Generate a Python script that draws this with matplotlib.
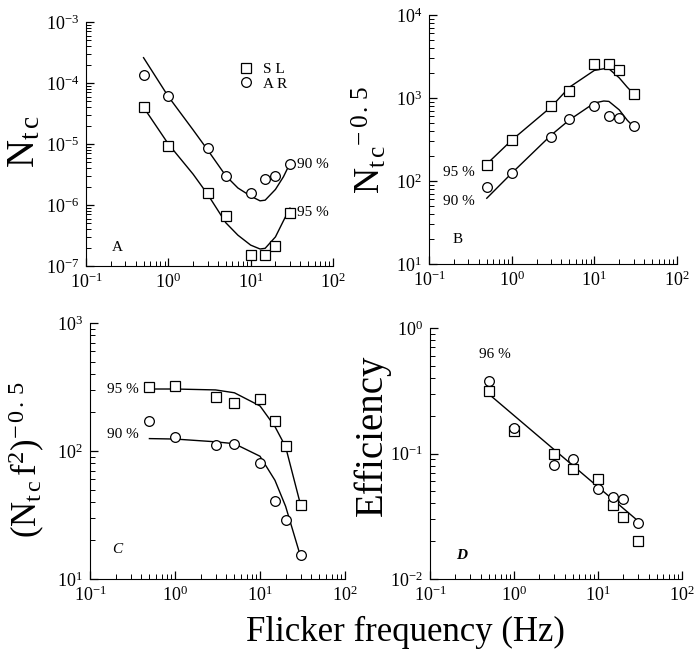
import numpy as np
import matplotlib.pyplot as plt
from matplotlib.ticker import LogLocator, NullFormatter

plt.rcParams.update({
    "font.family": "Liberation Serif",
    "mathtext.fontset": "custom",
    "mathtext.rm": "Liberation Serif",
    "mathtext.it": "Liberation Serif:italic",
    "mathtext.bf": "Liberation Serif:bold",
    "font.size": 11,
})

# flicker frequencies (Hz) of the measured points
freq = [0.5, 1, 3, 5, 10, 15, 20, 30]

# panel A: N_tc
a_sl = [4.0e-5, 9.3e-6, 1.55e-6, 6.6e-7, 1.5e-7, 1.5e-7, 2.1e-7, 7.5e-7]
a_ar = [1.35e-4, 6.1e-5, 8.7e-6, 3.0e-6, 1.6e-6, 2.7e-6, 3.0e-6, 4.7e-6]
a_fit_x = [0.5, 1, 2, 3, 5, 7, 10, 13, 15, 20, 25, 30]
a_fit90 = [2.6e-4, 6.0e-5, 1.7e-5, 8.0e-6, 3.0e-6, 1.9e-6, 1.4e-6, 1.17e-6, 1.2e-6, 1.8e-6, 2.9e-6, 4.8e-6]
a_fit95 = [4.0e-5, 1.0e-5, 3.2e-6, 1.5e-6, 5.1e-7, 3.2e-7, 2.2e-7, 1.9e-7, 1.95e-7, 3.0e-7, 5.5e-7, 8.9e-7]

# panel B: N_tc^-0.5
b_sl = [155, 316, 790, 1200, 2580, 2580, 2180, 1120]
b_ar = [84, 126, 340, 560, 790, 605, 570, 460]
b_fit_x = [0.5, 1, 3, 5, 10, 13, 15, 20, 25, 30]
b_fit95 = [160, 310, 780, 1350, 2150, 2250, 2250, 1750, 1350, 1120]
b_fit90 = [62, 124, 357, 545, 870, 920, 910, 720, 540, 450]

# panel C: (N_tc f^2)^-0.5
c_sl = [315, 322, 262, 238, 255, 172, 109, 38]
c_ar = [171, 129, 112, 113, 80, 41, 29, 15.5]
c_fit_x = [0.5, 1, 3, 5, 10, 15, 20, 30]
c_fit95 = [305, 305, 300, 285, 225, 155, 108, 38]
c_fit90 = [125, 124, 118, 114, 91, 59, 37, 15]

# panel D: efficiency
d_sl = [0.317, 0.151, 0.10, 0.075, 0.063, 0.039, 0.031, 0.020]
d_ar = [0.38, 0.161, 0.081, 0.090, 0.052, 0.045, 0.043, 0.028]
d_fit_x = [0.5, 30]
d_fit = [0.298, 0.029]

W, H = 694, 659
fig = plt.figure(figsize=(W / 100, H / 100), dpi=100)


def add_axes(left, right, top, bottom):
    # pixel box -> figure fraction
    return fig.add_axes([left / W, 1 - bottom / H, (right - left) / W, (bottom - top) / H])


def style(ax, ylim):
    ax.set_xscale("log")
    ax.set_yscale("log")
    ax.set_xlim(0.1, 100)
    ax.set_ylim(*ylim)
    for s in ["top", "right"]:
        ax.spines[s].set_visible(False)
    ax.xaxis.set_major_locator(LogLocator(base=10, numticks=10))
    ax.yaxis.set_major_locator(LogLocator(base=10, numticks=10))
    ax.xaxis.set_minor_locator(LogLocator(base=10, subs=np.arange(2, 10), numticks=10))
    ax.yaxis.set_minor_locator(LogLocator(base=10, subs=np.arange(2, 10), numticks=10))
    ax.xaxis.set_minor_formatter(NullFormatter())
    ax.yaxis.set_minor_formatter(NullFormatter())
    ax.tick_params(which="major", direction="in", length=6, width=0.9, labelsize=13, pad=5)
    ax.tick_params(which="minor", direction="in", length=3.5, width=0.7)


mk = dict(linestyle="none", mfc="white", mec="black", mew=0.9, ms=7)
ln = dict(color="black", lw=1.0)

# A
axA = add_axes(86, 333, 22, 266)
style(axA, (1e-7, 1e-3))
axA.plot(a_fit_x, a_fit90, **ln)
axA.plot(a_fit_x, a_fit95, **ln)
axA.plot(freq, a_sl, marker="s", label="S L", **mk)
axA.plot(freq, a_ar, marker="o", label="A R", **mk)
axA.legend(loc="upper right", bbox_to_anchor=(0.87, 0.89), frameon=False, fontsize=11,
           handletextpad=0.5, labelspacing=0.05, handlelength=1.2)
axA.text(37, 4.7e-6, "90 %", ha="left", va="center")
axA.text(37, 7.4e-7, "95 %", ha="left", va="center")
axA.text(0.24, 2.0e-7, "A", ha="center", va="center")

# B
axB = add_axes(429, 677, 15, 264)
style(axB, (10, 1e4))
axB.plot(b_fit_x, b_fit95, **ln)
axB.plot(b_fit_x, b_fit90, **ln)
axB.plot(freq, b_sl, marker="s", **mk)
axB.plot(freq, b_ar, marker="o", **mk)
axB.text(0.36, 125, "95 %", ha="right", va="center")
axB.text(0.36, 56, "90 %", ha="right", va="center")
axB.text(0.22, 19.5, "B", ha="center", va="center")

# C
axC = add_axes(90, 345, 323, 579)
style(axC, (10, 1e3))
axC.plot(c_fit_x, c_fit95, **ln)
axC.plot(c_fit_x, c_fit90, **ln)
axC.plot(freq, c_sl, marker="s", **mk)
axC.plot(freq, c_ar, marker="o", **mk)
axC.text(0.37, 303, "95 %", ha="right", va="center")
axC.text(0.37, 135, "90 %", ha="right", va="center")
axC.text(0.21, 17, "C", ha="center", va="center", style="italic")

# D
axD = add_axes(430, 682, 328, 579)
style(axD, (1e-2, 1))
axD.plot(d_fit_x, d_fit, **ln)
axD.plot(freq, d_sl, marker="s", **mk)
axD.plot(freq, d_ar, marker="o", **mk)
axD.text(0.59, 0.61, "96 %", ha="center", va="center")
axD.text(0.24, 0.0155, "D", ha="center", va="center", style="italic", fontweight="bold")

# axis titles
fig.text(25 / W, 1 - 142 / H, r"$\mathrm{N}_{\mathrm{t\,c}}$", rotation=90,
         ha="center", va="center", fontsize=28)
fig.text(370 / W, 1 - 140 / H, r"$\mathrm{N}_{\mathrm{t\,c}}{}^{-\,0\,.\,5}$", rotation=90,
         ha="center", va="center", fontsize=26)
fig.text(27 / W, 1 - 460 / H, r"$(\mathrm{N}_{\mathrm{t\,c}}\,\mathrm{f}^{2})^{-\,0\,.\,5}$", rotation=90,
         ha="center", va="center", fontsize=25)
fig.text(372 / W, 1 - 435 / H, "Efficiency", rotation=90,
         ha="center", va="center", fontsize=28)
fig.text(405 / W, 1 - 632 / H, "Flicker frequency (Hz)",
         ha="center", va="center", fontsize=25)

fig.savefig("out.png", dpi=100)
